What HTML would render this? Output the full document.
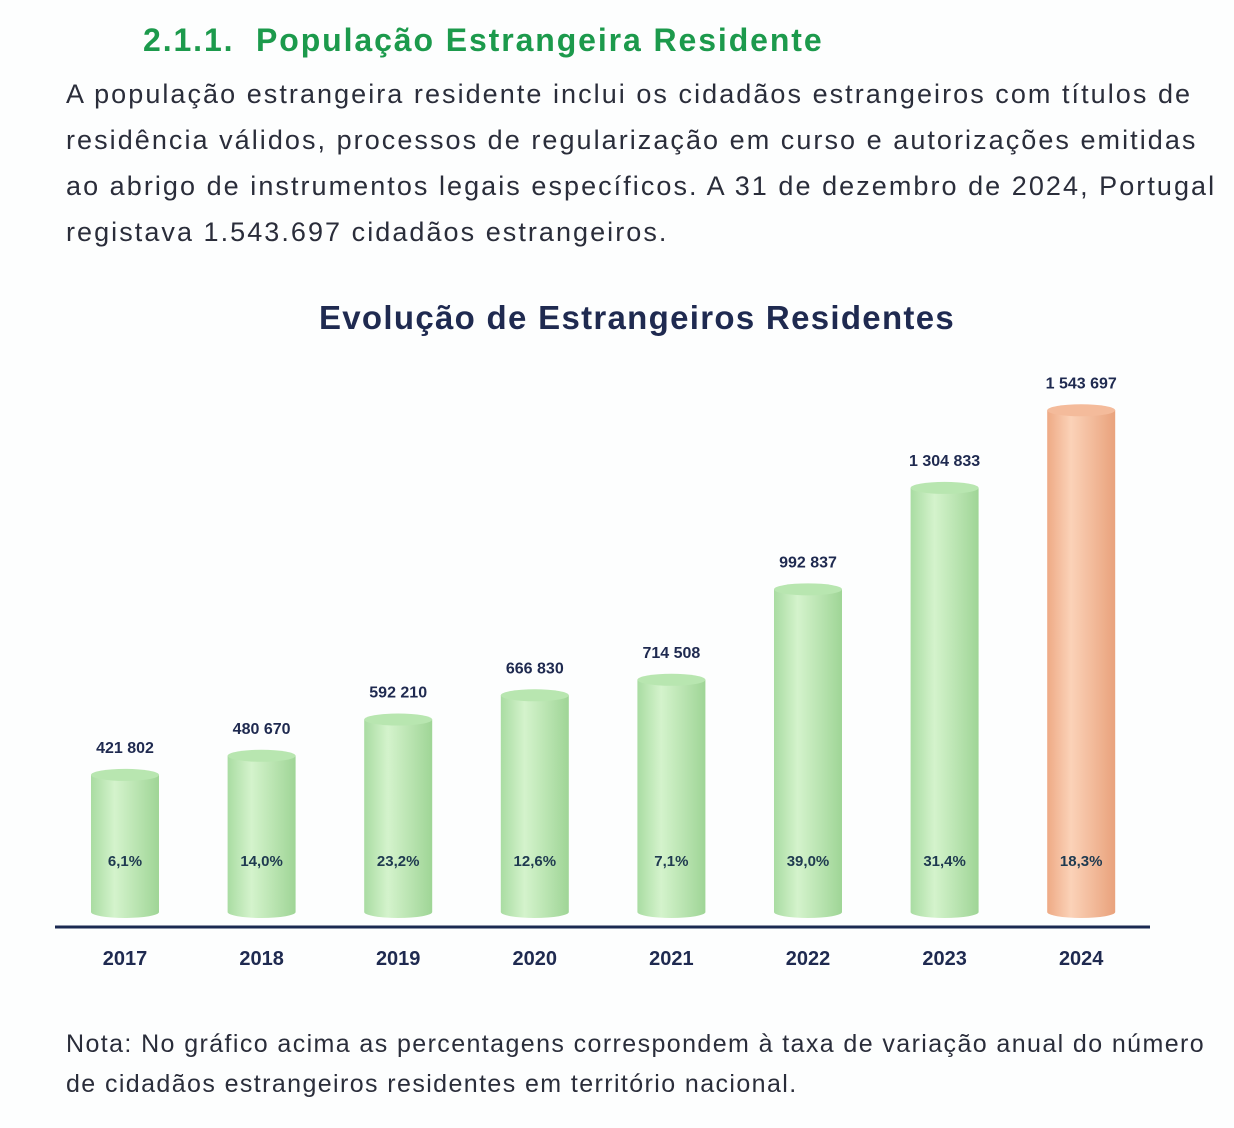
<!DOCTYPE html>
<html><head><meta charset="utf-8"><style>
body{margin:0;width:1234px;height:1128px;background:#fdfefe;font-family:"Liberation Sans",sans-serif;position:relative;overflow:hidden}
.t{position:absolute;white-space:nowrap}
</style></head><body>
<div class="t" style="left:143px;top:22px;font-size:32px;font-weight:bold;color:#1c9a4c;letter-spacing:1.9px">2.1.1.&nbsp; População Estrangeira Residente</div>
<div class="t" style="left:66px;top:71px;font-size:27px;line-height:46px;color:#2a2d3a;letter-spacing:2.05px">A população estrangeira residente inclui os cidadãos estrangeiros com títulos de<br>residência válidos, processos de regularização em curso e autorizações emitidas<br>ao abrigo de instrumentos legais específicos. A 31 de dezembro de 2024, Portugal<br>registava 1.543.697 cidadãos estrangeiros.</div>
<div class="t" style="left:0;width:1274px;text-align:center;top:299px;font-size:33px;font-weight:bold;color:#1f2a50;letter-spacing:1.3px">Evolução de Estrangeiros Residentes</div>
<svg id="c" width="1234" height="1128" style="position:absolute;left:0;top:0">
<defs>
<linearGradient id="g" x1="0" x2="1"><stop offset="0" stop-color="#a9dca2"/><stop offset="0.35" stop-color="#d4f3cc"/><stop offset="1" stop-color="#9fd596"/></linearGradient>
<linearGradient id="o" x1="0" x2="1"><stop offset="0" stop-color="#eeaa85"/><stop offset="0.35" stop-color="#fbd2b8"/><stop offset="1" stop-color="#e9a27c"/></linearGradient>
</defs>
</svg>
<div class="t" style="left:66px;top:1024px;font-size:25px;line-height:40px;color:#2a2d3a;letter-spacing:1.4px">Nota: No gráfico acima as percentagens correspondem à taxa de variação anual do número<br>de cidadãos estrangeiros residentes em território nacional.</div>
<script>
const years=["2017","2018","2019","2020","2021","2022","2023","2024"];
const values=[421802,480670,592210,666830,714508,992837,1304833,1543697];
const valueLabels=["421 802","480 670","592 210","666 830","714 508","992 837","1 304 833","1 543 697"];
const growth=["6,1%","14,0%","23,2%","12,6%","7,1%","39,0%","31,4%","18,3%"];
const NS="http://www.w3.org/2000/svg",svg=document.getElementById('c');
const base=912,x0=125,step=136.6,bw=68;
const y=v=>base-v*0.000325;
const xc=i=>x0+i*step;
function mk(t,a){const e=document.createElementNS(NS,t);for(const k in a)e.setAttribute(k,a[k]);svg.appendChild(e);return e;}
values.forEach((v,i)=>{
 const cx=xc(i),top=y(v),fill=i==7?"url(#o)":"url(#g)",cap=i==7?"#f4bb9b":"#b8e6b0";
 const b=mk('path',{d:`M${cx-bw/2},${top} L${cx-bw/2},${base} A${bw/2},6 0 0 0 ${cx+bw/2},${base} L${cx+bw/2},${top} Z`,fill:fill});
 
 
 const c=mk('ellipse',{cx:cx,cy:top,rx:bw/2,ry:6,fill:cap});
 
 
 const l=mk('text',{x:cx,y:top-22,'text-anchor':'middle','font-size':16,'font-weight':'bold',fill:'#1f2a50'});l.textContent=valueLabels[i];
 
 
 const p=mk('text',{x:cx,y:866,'text-anchor':'middle','font-size':15,'font-weight':'bold',fill:'#1f3a50'});p.textContent=growth[i];
 
 
 const t=mk('text',{x:cx,y:965,'text-anchor':'middle','font-size':20,'font-weight':'bold',fill:'#1f2a50'});t.textContent=years[i];
 
 
});
const ax=mk('line',{x1:55,x2:1150,y1:927,y2:927,stroke:'#1b2a52','stroke-width':3});


</script>
</body></html>
